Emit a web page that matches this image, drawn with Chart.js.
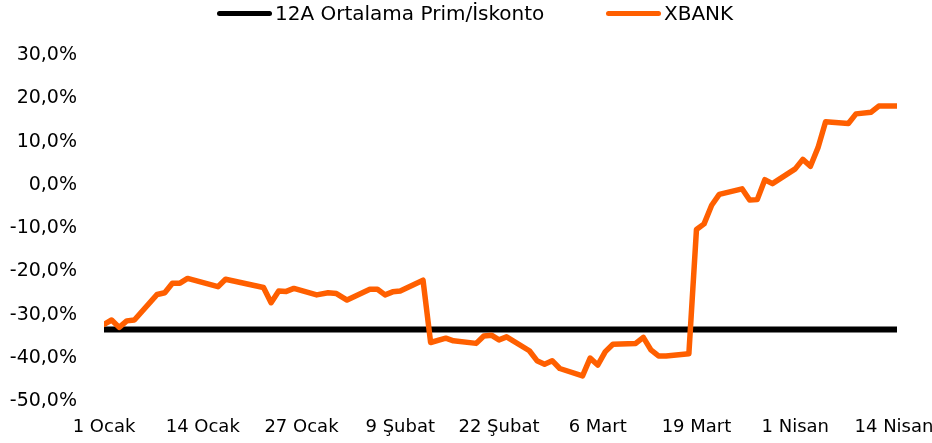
<!DOCTYPE html>
<html>
<head>
<meta charset="utf-8">
<script src="https://cdn.jsdelivr.net/npm/chart.js@4"></script>
<style>
  body { margin: 0; background: #fff; }
  #wrap { position: relative; width: 932px; height: 443px; }
  #legend { position: absolute; top: 0; left: 0; width: 932px; height: 30px; font-family: 'DejaVu Sans', sans-serif; font-size: 20px; color: #000; }
  .item { position: absolute; top: 2px; display: flex; align-items: center; white-space: nowrap; line-height: 23px; }
  .swatch { width: 55px; height: 5px; border-radius: 3px; margin-right: 3px; }
</style>
</head>
<body>
<div id="wrap">
  <canvas id="myChart" width="932" height="443"></canvas>
  <div id="legend"></div>
</div>
<script>
// series names
const seriesNames = ['12A Ortalama Prim/İskonto', 'XBANK'];

// x axis: days after 1 Ocak
const tickDays = [0, 13, 26, 39, 52, 65, 78, 91, 104];
const tickLabels = ['1 Ocak', '14 Ocak', '27 Ocak', '9 Şubat', '22 Şubat', '6 Mart', '19 Mart', '1 Nisan', '14 Nisan'];

// 12A average premium/discount (flat)
const avgDays = [0, 104.4];
const avgValues = [-33.4, -33.4];

// XBANK premium/discount (%)
const xbankDays = [0, 1, 2, 3, 4, 7, 8, 9, 10, 11, 15, 16, 21, 22, 23, 24, 25, 28, 29.5, 30.6,
  32, 35, 36, 37, 38, 39, 42, 43, 45, 46, 49, 50, 51, 52, 53, 56, 57, 58, 59, 60,
  63, 64, 65, 66, 67, 70, 71, 72, 73, 74, 77, 78, 79, 80, 81, 84, 85, 86, 87, 88,
  91, 92, 93, 94, 95, 98, 99, 101, 102, 104.4];
const xbankValues = [-32.2, -31.2, -32.9, -31.4, -31.2, -25.3, -24.9, -22.7, -22.7, -21.6, -23.5, -21.8, -23.7, -27.2, -24.5, -24.6, -23.9, -25.4, -24.9, -25.1,
  -26.6, -24.1, -24.1, -25.4, -24.7, -24.5, -22.0, -36.4, -35.4, -36.0, -36.6, -34.9, -34.7, -35.8, -35.1, -38.3, -40.6, -41.4, -40.6, -42.4,
  -44.1, -40.0, -41.6, -38.5, -36.8, -36.6, -35.2, -38.1, -39.5, -39.5, -39.0, -10.3, -9.0, -4.7, -2.2, -0.9, -3.5, -3.4, 1.2, 0.3,
  3.7, 5.9, 4.3, 8.6, 14.6, 14.2, 16.4, 16.8, 18.2, 18.2];

const toPoints = (xs, ys) => xs.map((x, i) => ({ x: x, y: ys[i] }));

const ctx = document.getElementById('myChart').getContext('2d');
const myChart = new Chart(ctx, {
    type: 'line',
    data: {
        datasets: [{
            label: seriesNames[0],
            data: toPoints(avgDays, avgValues),
            borderColor: '#000000',
            borderWidth: 6,
            borderCapStyle: 'round',
            pointRadius: 0,
            order: 1
        }, {
            label: seriesNames[1],
            data: toPoints(xbankDays, xbankValues),
            borderColor: '#FF5F00',
            borderWidth: 5.5,
            borderCapStyle: 'round',
            borderJoinStyle: 'round',
            pointRadius: 0,
            order: 0
        }]
    },
    options: {
        responsive: false,
        animation: false,
        layout: { padding: { top: 55, right: 35, bottom: -10, left: 0 } },
        plugins: { legend: { display: false }, tooltip: { enabled: false } },
        scales: {
            x: {
                type: 'linear',
                min: 0,
                max: 104.4,
                grid: { display: false, drawTicks: false },
                border: { display: false },
                afterBuildTicks: s => { s.ticks = tickDays.map(v => ({ value: v })); },
                afterFit: s => { s.paddingLeft = 0; s.paddingRight = 0; },
                ticks: {
                    autoSkip: false,
                    maxRotation: 0,
                    padding: 15,
                    color: '#000',
                    font: { family: 'DejaVu Sans', size: 18 },
                    callback: v => tickLabels[tickDays.indexOf(v)]
                }
            },
            y: {
                min: -50,
                max: 30,
                grid: { display: false, drawTicks: false },
                border: { display: false },
                afterFit: s => { s.width = 104; },
                ticks: {
                    stepSize: 10,
                    padding: 27,
                    color: '#000',
                    font: { family: 'DejaVu Sans', size: 19 },
                    callback: v => v.toFixed(1).replace('.', ',') + '%'
                }
            }
        }
    }
});

// html legend built from the datasets
const legendLeft = [217, 606];
const legendEl = document.getElementById('legend');
myChart.data.datasets.forEach((ds, i) => {
    const item = document.createElement('div');
    item.className = 'item';
    item.style.left = legendLeft[i] + 'px';
    const sw = document.createElement('span');
    sw.className = 'swatch';
    sw.style.background = ds.borderColor;
    const txt = document.createElement('span');
    txt.textContent = ds.label;
    item.appendChild(sw);
    item.appendChild(txt);
    legendEl.appendChild(item);
});
</script>
</body>
</html>
